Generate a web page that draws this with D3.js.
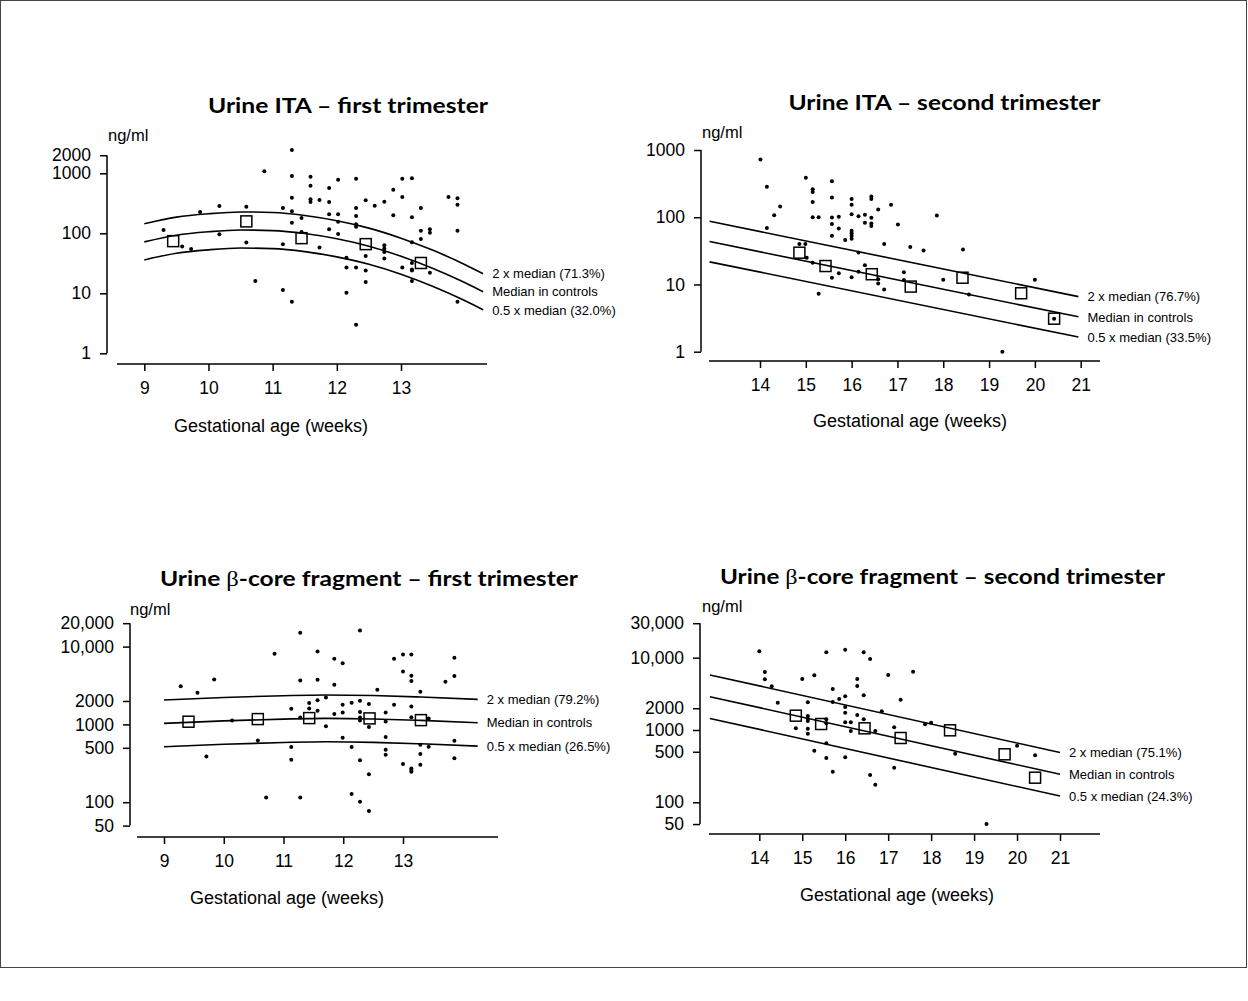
<!DOCTYPE html>
<html>
<head>
<meta charset="utf-8">
<script src="https://cdn.jsdelivr.net/npm/d3@7/dist/d3.min.js"></script>
<style>
  body { margin: 0; background: #fff; }
  svg { display: block; }
</style>
</head>
<body>
<script>
// ---------------- DATA ----------------
// Panel A: Urine ITA – first trimester
const titleA = ["Urine ITA – first trimester"];
const dotsA = [[9.30,113],[9.59,60],[9.73,55],[9.87,226],[10.17,285],[10.17,96],[10.59,277],[10.59,70],[10.73,16],[10.87,1080],[11.16,264],[11.16,66],[11.16,11.4],[11.30,2445],[11.30,902],[11.30,392],[11.30,233],[11.30,150],[11.30,7.2],[11.45,180],[11.45,105],[11.59,878],[11.59,621],[11.59,369],[11.59,333],[11.73,359],[11.73,58],[11.88,569],[11.88,333],[11.88,207],[11.88,117],[12.02,782],[12.02,207],[12.02,156],[12.02,97],[12.15,39],[12.15,27],[12.15,10.2],[12.30,813],[12.30,264],[12.30,194],[12.30,141],[12.30,129],[12.30,27],[12.30,3.0],[12.45,355],[12.45,42],[12.45,24],[12.45,15.4],[12.59,288],[12.74,336],[12.74,63],[12.74,56],[12.74,49],[12.74,38],[12.88,533],[12.88,200],[13.02,813],[13.02,403],[13.02,27],[13.17,826],[13.17,185],[13.17,71],[13.17,32],[13.17,25],[13.17,24],[13.17,16],[13.31,264],[13.31,110],[13.31,80],[13.45,117],[13.45,102],[13.45,22],[13.74,403],[13.88,383],[13.88,300],[13.88,110],[13.88,7.2]];
const boxesA = [[9.45,74],[10.59,158],[11.45,83],[12.45,66],[13.31,32]];
const curveWeeksA = [9,9.5,10,10.5,11,11.5,12,12.5,13,13.5,14,14.28];
const medianA = [72,93,106,113.5,111,99,81,61,41.6,26,15,10.6];
const upperA  = [144,186,212,227,222,198,162,122,83,52,30,21.2];
const lowerA  = [36,46.5,53,56.8,55.5,49.5,40.5,30.5,20.8,13,7.5,5.3];
const yTicksA = [1,10,100,1000,2000];
const yTickLabelsA = ["1","10","100","1000","2000"];
const xTicksA = [9,10,11,12,13];
const lineLabelsA = ["2 x median (71.3%)","Median in controls","0.5 x median (32.0%)"];

// Panel B: Urine ITA – second trimester
const titleB = ["Urine ITA – second trimester"];
const dotsB = [[14.01,720],[14.15,285],[14.15,69],[14.31,107],[14.44,144],[14.86,40],[14.99,40],[15.00,388],[15.02,25],[15.15,261],[15.15,238],[15.15,169],[15.15,100],[15.15,21],[15.28,100],[15.28,7.3],[15.57,343],[15.57,196],[15.57,99],[15.57,79],[15.57,53],[15.57,12.6],[15.72,102],[15.72,68],[15.72,14.7],[15.86,46],[16.00,187],[16.00,154],[16.00,111],[16.00,63],[16.00,58],[16.00,53],[16.00,48],[16.00,12.8],[16.15,103],[16.15,30],[16.15,15.5],[16.29,109],[16.29,83],[16.29,19.3],[16.43,203],[16.43,187],[16.43,98],[16.43,81],[16.43,74],[16.58,130],[16.58,12],[16.58,10.3],[16.71,40],[16.71,8.4],[16.86,154],[17.01,78],[17.14,15.2],[17.14,11.7],[17.28,36],[17.57,32],[17.86,106],[18.00,11.8],[18.43,33],[18.56,7.1],[19.29,1.0],[20.00,11.8],[20.42,3.1]];
const boxesB = [[14.86,29.7],[15.43,18.8],[16.44,14.2],[17.29,9.3],[18.42,12.6],[19.70,7.4],[20.42,3.1]];
const curveWeeksB = [12.9,20.95];
const medianB = [43.5,3.3];
const upperB  = [87,6.6];
const lowerB  = [21.7,1.65];
const yTicksB = [1,10,100,1000];
const yTickLabelsB = ["1","10","100","1000"];
const xTicksB = [14,15,16,17,18,19,20,21];
const lineLabelsB = ["2 x median (76.7%)","Median in controls","0.5 x median (33.5%)"];

// Panel C: Urine β-core fragment – first trimester
const titleC = ["Urine ", "β", "-core fragment – first trimester"];
const dotsC = [[9.28,3100],[9.56,2550],[9.71,388],[9.84,3780],[10.14,1125],[10.57,622],[10.71,115],[10.85,8110],[11.13,1590],[11.13,511],[11.13,352],[11.28,15100],[11.28,3680],[11.28,1230],[11.28,115],[11.43,1880],[11.43,1605],[11.57,8670],[11.57,3755],[11.57,2050],[11.57,1500],[11.71,2220],[11.71,950],[11.85,6980],[11.85,3240],[11.85,1357],[11.99,6130],[11.99,1790],[11.99,1427],[11.99,675],[12.14,1900],[12.14,511],[12.14,127],[12.28,16150],[12.28,2015],[12.28,1440],[12.28,1230],[12.28,1125],[12.28,345],[12.28,101],[12.43,1825],[12.43,923],[12.43,228],[12.43,77],[12.57,2790],[12.71,1427],[12.71,1093],[12.71,687],[12.71,472],[12.71,407],[12.85,6980],[12.85,1790],[13.00,7940],[13.00,4800],[13.00,309],[13.14,7940],[13.14,4230],[13.14,3610],[13.14,1700],[13.14,1240],[13.14,272],[13.14,259],[13.14,247],[13.29,2630],[13.29,548],[13.29,415],[13.29,303],[13.43,517],[13.43,1194],[13.71,3540],[13.86,7190],[13.86,4180],[13.86,617],[13.86,366]];
const boxesC = [[9.41,1083],[10.57,1170],[11.43,1205],[12.44,1194],[13.30,1135]];
const curveWeeksC = [9,10,11,11.7,12.5,13.3,14.25];
const medianC = [1030,1110,1170,1195,1175,1125,1050];
const upperC  = [2060,2220,2340,2390,2350,2250,2100];
const lowerC  = [515,555,585,598,588,563,525];
const yTicksC = [50,100,500,1000,2000,10000,20000];
const yTickLabelsC = ["50","100","500","1000","2000","10,000","20,000"];
const xTicksC = [9,10,11,12,13];
const lineLabelsC = ["2 x median (79.2%)","Median in controls","0.5 x median (26.5%)"];

// Panel D: Urine β-core fragment – second trimester
const titleD = ["Urine ", "β", "-core fragment – second trimester"];
const dotsD = [[14.00,12270],[14.13,6340],[14.13,5020],[14.29,4020],[14.43,2390],[14.85,1055],[15.00,5070],[15.13,2415],[15.13,1563],[15.13,1436],[15.13,1331],[15.13,1042],[15.13,889],[15.28,5710],[15.28,518],[15.56,11890],[15.56,1406],[15.56,1238],[15.56,655],[15.56,410],[15.71,3690],[15.71,2440],[15.71,265],[15.86,2685],[16.00,12910],[16.00,2925],[16.00,2080],[16.00,1735],[16.00,1277],[16.00,419],[16.13,1277],[16.13,968],[16.28,5070],[16.28,4060],[16.28,1611],[16.43,11890],[16.43,3020],[16.43,1406],[16.58,9590],[16.58,239],[16.70,968],[16.70,175],[16.85,1815],[17.00,5770],[17.14,1090],[17.14,301],[17.29,2625],[17.58,6410],[17.86,1197],[18.00,1262],[18.56,470],[19.29,50],[20.00,607],[20.42,447]];
const boxesD = [[14.85,1578],[15.44,1210],[16.45,1055],[17.29,775],[18.44,990],[19.71,461],[20.42,219]];
const curveWeeksD = [12.85,21];
const medianD = [2890,244];
const upperD  = [5780,488];
const lowerD  = [1445,122];
const yTicksD = [50,100,500,1000,2000,10000,30000];
const yTickLabelsD = ["50","100","500","1000","2000","10,000","30,000"];
const xTicksD = [14,15,16,17,18,19,20,21];
const lineLabelsD = ["2 x median (75.1%)","Median in controls","0.5 x median (24.3%)"];

const unitLabel = "ng/ml";
const xAxisTitle = "Gestational age (weeks)";

// ---------------- DRAWING ----------------
const W = 1248, H = 1001;
const svg = d3.select("body").append("svg").attr("width", W).attr("height", H);
svg.append("rect").attr("x",0.5).attr("y",0.5).attr("width",1246).attr("height",967)
   .attr("fill","#fff").attr("stroke","#444").attr("stroke-width",1);

const SANS = "'Liberation Sans', Arial, Helvetica, sans-serif";

const panels = [
  { title: titleA, titleX: 348, titleY: 113, titleW: 280,
    dots: dotsA, boxes: boxesA, weeks: curveWeeksA, med: medianA, up: upperA, lo: lowerA,
    yTicks: yTicksA, yLabels: yTickLabelsA, xTicks: xTicksA, lineLabels: lineLabelsA,
    xDom: [9,13], xRange: [144.3,401], xAxisFrom: 117, xAxisTo: 487, xAxisY: 364,
    yDom: [1,1000], yRange: [353.3,173.3], yAxisX: 107,
    unitX: 108, unitY: 141, axTitleX: 271, axTitleY: 432 },
  { title: titleB, titleX: 944.5, titleY: 110, titleW: 312,
    dots: dotsB, boxes: boxesB, weeks: curveWeeksB, med: medianB, up: upperB, lo: lowerB,
    yTicks: yTicksB, yLabels: yTickLabelsB, xTicks: xTicksB, lineLabels: lineLabelsB,
    xDom: [14,21], xRange: [760,1080.7], xAxisFrom: 709, xAxisTo: 1100, xAxisY: 361,
    yDom: [1,1000], yRange: [351.7,150], yAxisX: 701,
    unitX: 702, unitY: 138, axTitleX: 910, axTitleY: 427 },
  { title: titleC, titleX: 369, titleY: 586, titleW: 418,
    dots: dotsC, boxes: boxesC, weeks: curveWeeksC, med: medianC, up: upperC, lo: lowerC,
    yTicks: yTicksC, yLabels: yTickLabelsC, xTicks: xTicksC, lineLabels: lineLabelsC,
    xDom: [9,13], xRange: [164,403], xAxisFrom: 137, xAxisTo: 498, xAxisY: 837,
    yDom: [100,10000], yRange: [802.2,646.6], yAxisX: 130,
    unitX: 130, unitY: 615, axTitleX: 287, axTitleY: 904 },
  { title: titleD, titleX: 942.5, titleY: 584, titleW: 445,
    dots: dotsD, boxes: boxesD, weeks: curveWeeksD, med: medianD, up: upperD, lo: lowerD,
    yTicks: yTicksD, yLabels: yTickLabelsD, xTicks: xTicksD, lineLabels: lineLabelsD,
    xDom: [14,21], xRange: [759.3,1060], xAxisFrom: 709, xAxisTo: 1100, xAxisY: 834,
    yDom: [100,10000], yRange: [802.3,657.7], yAxisX: 700,
    unitX: 702, unitY: 612, axTitleX: 897, axTitleY: 901 }
];

panels.forEach(p => {
  const g = svg.append("g");
  const x = d3.scaleLinear().domain(p.xDom).range(p.xRange);
  const y = d3.scaleLog().domain(p.yDom).range(p.yRange);

  // Title
  const t = g.append("text")
    .attr("x", p.titleX).attr("y", p.titleY)
    .attr("text-anchor", "middle")
    .attr("font-family", "Lato, 'Open Sans', sans-serif")
    .attr("font-weight", "bold").attr("font-size", 20)
    .attr("textLength", p.titleW).attr("lengthAdjust", "spacingAndGlyphs")
    .attr("fill", "#000");
  p.title.forEach(s => {
    const ts = t.append("tspan").text(s);
    if (s === "β") ts.attr("font-family", "'Liberation Serif', 'DejaVu Serif', serif").attr("font-weight", "normal");
  });

  // Unit label
  g.append("text").attr("x", p.unitX).attr("y", p.unitY)
    .attr("font-family", SANS).attr("font-size", 16.5).text(unitLabel);

  // Y axis
  const yAx = d3.axisLeft(y).tickValues(p.yTicks)
    .tickFormat((d, i) => p.yLabels[i]).tickSize(7).tickSizeOuter(0).tickPadding(9);
  const yg = g.append("g").attr("transform", `translate(${p.yAxisX},0)`).call(yAx);
  yg.select(".domain").attr("d", `M0,${y(d3.min(p.yTicks))}V${y(d3.max(p.yTicks))}`);
  yg.selectAll("line, path").attr("stroke", "#000").attr("stroke-width", 1.5);
  yg.selectAll("text").attr("font-family", SANS).attr("font-size", 17.5).attr("fill", "#000");

  // X axis
  const xAx = d3.axisBottom(x).tickValues(p.xTicks).tickFormat(d3.format("d"))
    .tickSize(7).tickSizeOuter(0).tickPadding(11);
  const xg = g.append("g").attr("transform", `translate(0,${p.xAxisY})`).call(xAx);
  xg.select(".domain").attr("d", `M${p.xAxisFrom},0H${p.xAxisTo}`);
  xg.selectAll("line, path").attr("stroke", "#000").attr("stroke-width", 1.5);
  xg.selectAll("text").attr("font-family", SANS).attr("font-size", 17.5).attr("fill", "#000");

  g.append("text").attr("x", p.axTitleX).attr("y", p.axTitleY).attr("text-anchor", "middle")
    .attr("font-family", SANS).attr("font-size", 18).text(xAxisTitle);

  // Reference lines
  const line = d3.line().x(d => x(d[0])).y(d => y(d[1])).curve(d3.curveMonotoneX);
  const series = [p.up, p.med, p.lo];
  series.forEach((vals, k) => {
    const pts = p.weeks.map((w, i) => [w, vals[i]]);
    g.append("path").attr("d", line(pts)).attr("fill", "none")
      .attr("stroke", "#000").attr("stroke-width", 1.6);
    const last = pts[pts.length - 1];
    g.append("text").attr("x", x(last[0]) + 9).attr("y", y(last[1]))
      .attr("dy", "0.36em").attr("font-family", SANS).attr("font-size", 13)
      .text(p.lineLabels[k]);
  });

  // Dots
  g.selectAll("circle.dot").data(p.dots).enter().append("circle")
    .attr("class", "dot").attr("cx", d => x(d[0])).attr("cy", d => y(d[1]))
    .attr("r", 2).attr("fill", "#000");

  // Boxes
  const bs = 11;
  g.selectAll("rect.box").data(p.boxes).enter().append("rect")
    .attr("class", "box").attr("x", d => x(d[0]) - bs / 2).attr("y", d => y(d[1]) - bs / 2)
    .attr("width", bs).attr("height", bs).attr("fill", "none")
    .attr("stroke", "#000").attr("stroke-width", 1.5);
});
</script>
</body>
</html>
